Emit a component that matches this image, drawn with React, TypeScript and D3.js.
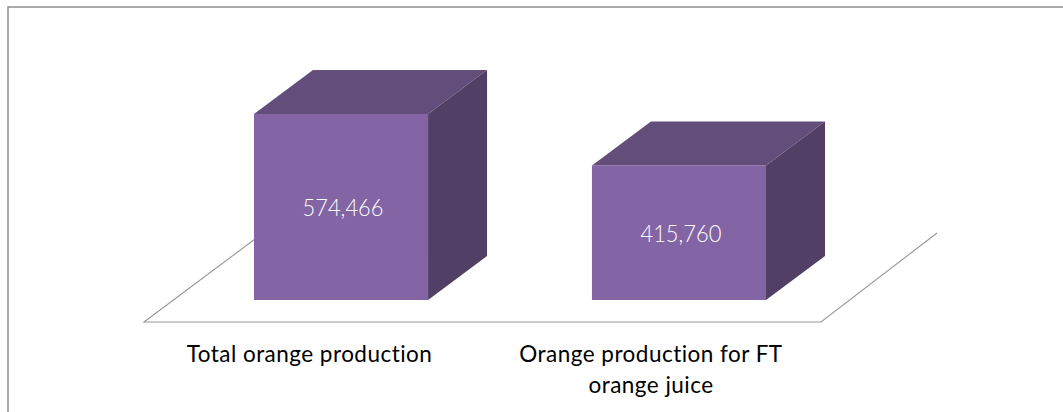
import React from "react";
import * as d3 from "d3";

const categories = ["Total orange production", "Orange production for FT orange juice"];
const categoryLines = [["Total orange production"], ["Orange production for FT", "orange juice"]];
const values = [574466, 415760];
const valueLabels = ["574,466", "415,760"];

const W = 1063, H = 412;
const x = d3.scaleBand<string>().domain(categories).range([169.5, 850.5]).paddingInner(0.485).paddingOuter(0.25);
const y = d3.scaleLinear().domain([0, 574466]).range([300, 114]);
const dx = 59, dy = -44;
const line = d3.line();

export default function App() {
  return (
    <svg width={W} height={H} style={{ position: "fixed", left: 0, top: 0, background: "#fff" }} fontFamily="Lato">
      <path d={`M8 ${H} V7 H${W}`} fill="none" stroke="#8f8f8f" strokeWidth={1.5} />
      <path d={line([[255, 239], [144, 322], [821, 322], [937, 233]]) ?? ""} fill="none" stroke="#979797" strokeWidth={1.1} />
      {categories.map((c, i) => {
        const x0 = x(c)!, x1 = x0 + x.bandwidth(), y0 = y(values[i]), yb = y(0);
        return (
          <g key={c}>
            <path d={`M${x0} ${y0}L${x0 + dx} ${y0 + dy}H${x1 + dx}L${x1} ${y0}Z`} fill="#634e7b" />
            <path d={`M${x1} ${y0}L${x1 + dx} ${y0 + dy}V${yb + dy}L${x1} ${yb}Z`} fill="#523f66" />
            <rect x={x0} y={y0} width={x.bandwidth()} height={yb - y0} fill="#8364a4" />
            <text x={(x0 + x1) / 2 + 2} y={(y0 + yb) / 2 + 9} textAnchor="middle" fill="#fff" fontSize={24} fontWeight={300} textLength={81} lengthAdjust="spacingAndGlyphs">{valueLabels[i]}</text>
            <text textAnchor="middle" fill="#000" fontSize={22.5} letterSpacing={0.47} style={{ fontVariantLigatures: "none" }}>
              {categoryLines[i].map((l, j) => (
                <tspan key={l} x={i === 0 ? 309.5 : 651} y={362 + j * 31}>{l}</tspan>
              ))}
            </text>
          </g>
        );
      })}
    </svg>
  );
}
